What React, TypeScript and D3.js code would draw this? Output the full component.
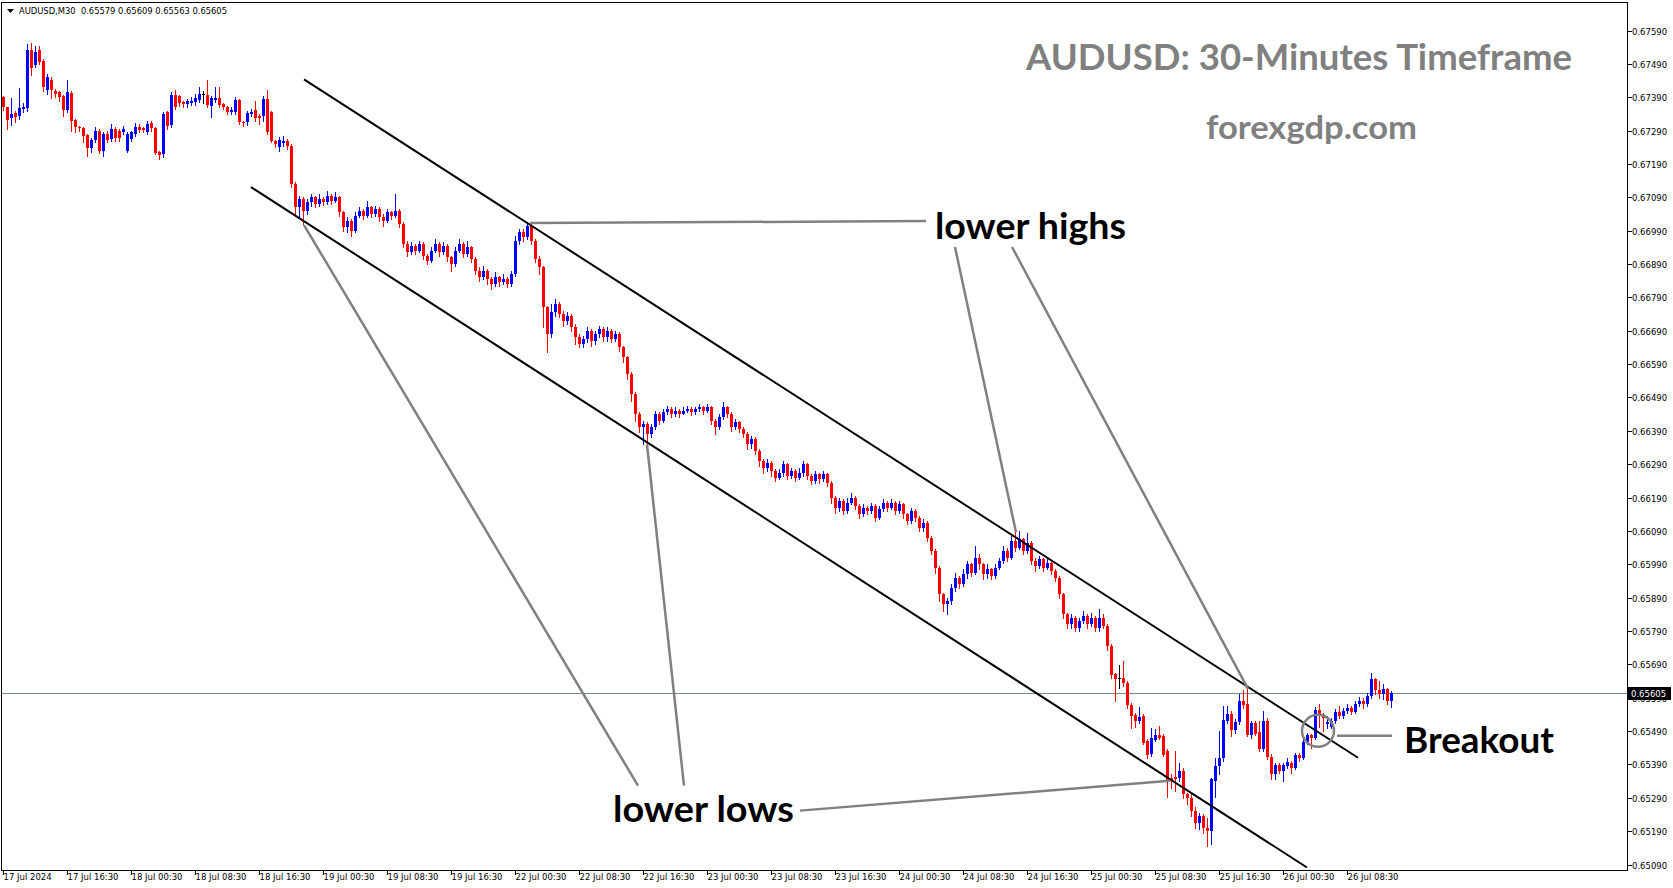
import React, { useEffect, useRef } from 'react';
import * as d3 from 'd3';

const W = 1673;
const H = 888;

const headerText = 'AUDUSD,M30  0.65579 0.65609 0.65563 0.65605';
const chartTitle = 'AUDUSD: 30-Minutes Timeframe';
const siteName = 'forexgdp.com';
const lastPrice = 0.65605;

const timeLabels = [
  '17 Jul 2024', '17 Jul 16:30', '18 Jul 00:30', '18 Jul 08:30', '18 Jul 16:30', '19 Jul 00:30',
  '19 Jul 08:30', '19 Jul 16:30', '22 Jul 00:30', '22 Jul 08:30', '22 Jul 16:30', '23 Jul 00:30',
  '23 Jul 08:30', '23 Jul 16:30', '24 Jul 00:30', '24 Jul 08:30', '24 Jul 16:30', '25 Jul 00:30',
  '25 Jul 08:30', '25 Jul 16:30', '26 Jul 00:30', '26 Jul 08:30',
];

const priceTicks = [
  0.6759, 0.6749, 0.6739, 0.6729, 0.6719, 0.6709, 0.6699, 0.6689, 0.6679, 0.6669, 0.6659, 0.6649, 0.6639,
  0.6629, 0.6619, 0.6609, 0.6599, 0.6589, 0.6579, 0.6569, 0.6559, 0.6549, 0.6539, 0.6529, 0.6519, 0.6509,
];

// M30 candles, prices x 1e5
const opens = [
  67390, 67360, 67327, 67342, 67333, 67354, 67357, 67533, 67488, 67533, 67500, 67411, 67443, 67408, 67405, 67393,
  67351, 67402, 67321, 67300, 67297, 67276, 67237, 67261, 67288, 67228, 67279, 67264, 67294, 67288, 67285, 67228,
  67264, 67279, 67300, 67297, 67285, 67312, 67297, 67225, 67219, 67345, 67306, 67396, 67393, 67375, 67369, 67372,
  67375, 67381, 67399, 67396, 67363, 67381, 67387, 67369, 67360, 67345, 67345, 67381, 67315, 67315, 67339, 67351,
  67333, 67333, 67384, 67345, 67258, 67240, 67252, 67258, 67243, 67130,
  67060, 67085, 67050, 67075, 67090, 67070, 67085, 67075, 67095, 67080, 67090, 67045, 67000, 67020, 66990, 67035,
  67050, 67035, 67060, 67040, 67055, 67030, 67020, 67045, 67035, 67050, 67010, 66950, 66925, 66945, 66930, 66950,
  66915, 66900, 66930, 66950, 66925, 66945, 66910, 66890, 66930, 66950, 66920, 66940, 66905, 66870, 66850, 66870,
  66845, 66830, 66850, 66835, 66845, 66830, 66860, 66960, 66985, 66970, 67005, 66960, 66905, 66880, 66760, 66680,
  66745, 66770, 66740, 66720, 66735, 66700, 66670, 66650, 66665, 66690, 66660, 66680, 66695, 66670, 66690, 66665,
  66680, 66640, 66610, 66560, 66500, 66440, 66400, 66410, 66380, 66400, 66440, 66420, 66445, 66455, 66440, 66450,
  66440, 66450, 66455, 66445, 66455, 66460, 66450, 66460, 66420, 66400, 66430, 66460, 66440, 66400, 66415, 66395,
  66380, 66350, 66365, 66330, 66300, 66280, 66295, 66270, 66250, 66265, 66290, 66255, 66270, 66250, 66265, 66290,
  66255, 66240, 66260, 66245, 66260, 66235, 66190, 66160, 66180, 66150, 66175, 66190, 66165, 66140, 66160, 66150,
  66165, 66130, 66155, 66175, 66160, 66175, 66150, 66170, 66140, 66120, 66150, 66130, 66100, 66115, 66070, 66030,
  65980, 65900, 65870, 65880, 65920, 65950, 65930, 65960, 65990, 65965, 66010, 65990, 65960, 65975, 65955, 65980,
  66000, 66030, 66010, 66060, 66040, 66065, 66030, 66055, 66000, 65985, 66005, 65980, 65995, 65970, 65950, 65900,
  65840, 65810, 65830, 65800, 65820, 65835, 65810, 65830, 65800,
  65830, 65805, 65745, 65661, 65650, 65650, 65634, 65569, 65539, 65521, 65536, 65461, 65422, 65464, 65479, 65476,
  65431, 65350, 65353, 65350, 65371, 65300, 65290, 65250, 65215, 65235, 65200, 65190, 65341, 65386, 65410, 65521,
  65542, 65494, 65518, 65581, 65572, 65479, 65515, 65488, 65437, 65521, 65413, 65362, 65389, 65371, 65386, 65395,
  65380, 65419, 65410, 65458, 65479, 65470, 65554, 65536, 65512, 65503, 65521, 65548, 65536, 65551, 65560, 65548,
  65572, 65580, 65570, 65596, 65645, 65612, 65600, 65615, 65579,
];

const highs = [
  67395, 67362, 67387, 67350, 67417, 67372, 67551, 67554, 67545, 67545, 67505, 67460, 67450, 67415, 67410, 67398,
  67443, 67408, 67325, 67305, 67300, 67280, 67268, 67300, 67295, 67285, 67290, 67309, 67300, 67295, 67305, 67285,
  67290, 67312, 67310, 67300, 67320, 67318, 67300, 67228, 67345, 67350, 67405, 67411, 67398, 67380, 67385, 67390,
  67400, 67420, 67408, 67441, 67395, 67422, 67420, 67372, 67365, 67360, 67390, 67385, 67318, 67348, 67355, 67380,
  67340, 67395, 67411, 67350, 67262, 67270, 67275, 67265, 67250, 67135,
  67095, 67090, 67085, 67100, 67095, 67100, 67090, 67110, 67100, 67105, 67095, 67050, 67030, 67025, 67045, 67060,
  67055, 67080, 67065, 67065, 67060, 67040, 67055, 67050, 67100, 67055, 67015, 66960, 66955, 66950, 66960, 66955,
  66920, 66940, 66965, 66955, 66955, 66950, 66915, 66940, 66965, 66955, 66960, 66945, 66910, 66880, 66885, 66875,
  66850, 66865, 66855, 66860, 66850, 66870, 66975, 66995, 66995, 67015, 67010, 66965, 66915, 66885, 66765, 66770,
  66785, 66775, 66750, 66745, 66740, 66710, 66680, 66675, 66700, 66695, 66690, 66705, 66700, 66700, 66695, 66690,
  66685, 66645, 66615, 66565, 66505, 66445, 66420, 66415, 66410, 66450, 66445, 66455, 66465, 66460, 66460, 66455,
  66460, 66465, 66460, 66462, 66470, 66465, 66470, 66465, 66425, 66440, 66475, 66465, 66445, 66425, 66420, 66400,
  66385, 66375, 66370, 66335, 66305, 66305, 66300, 66275, 66275, 66300, 66295, 66280, 66275, 66280, 66300, 66295,
  66260, 66270, 66265, 66270, 66265, 66240, 66195, 66190, 66185, 66190, 66205, 66195, 66170, 66170, 66165, 66175,
  66170, 66165, 66185, 66180, 66185, 66180, 66180, 66175, 66145, 66160, 66155, 66135, 66125, 66120, 66075, 66035,
  65985, 65905, 65890, 65930, 65965, 65955, 65975, 66000, 65995, 66045, 66020, 65995, 65990, 65980, 65990, 66010,
  66045, 66040, 66075, 66095, 66090, 66070, 66085, 66060, 66010, 66015, 66010, 66005, 66000, 65975, 65955, 65905,
  65845, 65840, 65835, 65830, 65850, 65840, 65845, 65835, 65855,
  65840, 65810, 65750, 65665, 65688, 65700, 65640, 65575, 65545, 65563, 65540, 65465, 65500, 65495, 65506, 65480,
  65435, 65360, 65431, 65395, 65380, 65305, 65300, 65262, 65245, 65240, 65230, 65350, 65410, 65490, 65566, 65566,
  65550, 65525, 65602, 65614, 65620, 65520, 65520, 65521, 65551, 65530, 65420, 65395, 65395, 65395, 65410, 65400,
  65425, 65425, 65465, 65485, 65482, 65563, 65572, 65545, 65535, 65530, 65555, 65566, 65560, 65570, 65566, 65580,
  65592, 65590, 65605, 65665, 65650, 65640, 65630, 65620, 65609,
];

const lows = [
  67352, 67294, 67306, 67315, 67325, 67345, 67350, 67458, 67480, 67490, 67410, 67400, 67387, 67392, 67380, 67333,
  67345, 67288, 67285, 67290, 67255, 67213, 67225, 67255, 67222, 67213, 67255, 67258, 67260, 67258, 67280, 67225,
  67258, 67275, 67285, 67285, 67280, 67290, 67219, 67204, 67210, 67295, 67300, 67355, 67365, 67362, 67362, 67368,
  67368, 67375, 67372, 67360, 67330, 67375, 67360, 67355, 67340, 67340, 67340, 67310, 67305, 67306, 67335, 67320,
  67310, 67320, 67280, 67255, 67240, 67230, 67245, 67235, 67120, 67040,
  67030, 67010, 67040, 67065, 67060, 67065, 67068, 67070, 67070, 67075, 67035, 66990, 66985, 66975, 66985, 67030,
  67025, 67030, 67030, 67035, 67020, 67005, 67015, 67025, 67030, 67000, 66940, 66915, 66920, 66920, 66925, 66905,
  66890, 66895, 66925, 66915, 66920, 66900, 66870, 66885, 66925, 66910, 66915, 66895, 66860, 66840, 66845, 66830,
  66815, 66825, 66825, 66830, 66820, 66825, 66855, 66950, 66960, 66965, 66950, 66895, 66860, 66700, 66625, 66670,
  66735, 66730, 66705, 66710, 66690, 66650, 66640, 66640, 66655, 66645, 66650, 66670, 66660, 66660, 66655, 66660,
  66630, 66595, 66545, 66480, 66420, 66385, 66350, 66340, 66370, 66395, 66410, 66415, 66440, 66430, 66435, 66430,
  66440, 66445, 66438, 66440, 66450, 66440, 66445, 66410, 66380, 66395, 66425, 66430, 66390, 66395, 66385, 66370,
  66335, 66340, 66320, 66285, 66265, 66270, 66255, 66240, 66245, 66255, 66245, 66250, 66240, 66245, 66255, 66245,
  66230, 66235, 66235, 66240, 66225, 66175, 66145, 66150, 66140, 66145, 66170, 66155, 66130, 66135, 66140, 66145,
  66120, 66125, 66150, 66150, 66155, 66140, 66145, 66130, 66110, 66115, 66120, 66090, 66090, 66060, 66020, 65965,
  65880, 65850, 65840, 65870, 65910, 65920, 65925, 65950, 65955, 65960, 65975, 65945, 65950, 65945, 65950, 65975,
  65995, 66000, 66005, 66030, 66035, 66020, 66025, 65990, 65970, 65980, 65970, 65975, 65960, 65940, 65890, 65830,
  65800, 65800, 65790, 65790, 65815, 65800, 65805, 65790, 65790,
  65800, 65733, 65650, 65581, 65620, 65625, 65560, 65500, 65503, 65515, 65450, 65410, 65415, 65460, 65465, 65415,
  65291, 65320, 65311, 65340, 65290, 65270, 65235, 65200, 65195, 65185, 65145, 65150, 65291, 65360, 65400, 65515,
  65476, 65485, 65510, 65560, 65475, 65470, 65478, 65430, 65430, 65405, 65345, 65345, 65365, 65340, 65380, 65365,
  65375, 65400, 65405, 65450, 65440, 65465, 65503, 65490, 65500, 65500, 65515, 65530, 65530, 65545, 65540, 65545,
  65565, 65560, 65565, 65590, 65600, 65590, 65585, 65570, 65563,
];

const closes = [
  67360, 67321, 67339, 67330, 67357, 67360, 67533, 67479, 67527, 67497, 67420, 67452, 67411, 67399, 67390, 67351,
  67405, 67318, 67300, 67297, 67273, 67237, 67261, 67288, 67228, 67279, 67261, 67294, 67267, 67267, 67294, 67279,
  67285, 67300, 67291, 67291, 67309, 67297, 67222, 67216, 67339, 67303, 67396, 67360, 67372, 67369, 67378, 67378,
  67387, 67399, 67399, 67366, 67387, 67387, 67366, 67360, 67345, 67351, 67381, 67315, 67312, 67342, 67345, 67327,
  67327, 67384, 67285, 67258, 67249, 67261, 67258, 67243, 67130, 67060,
  67085, 67050, 67075, 67090, 67070, 67085, 67075, 67095, 67080, 67090, 67045, 67000, 67020, 66990, 67035, 67050,
  67035, 67060, 67040, 67055, 67030, 67020, 67045, 67035, 67050, 67010, 66950, 66925, 66945, 66930, 66950, 66915,
  66900, 66930, 66950, 66925, 66945, 66910, 66890, 66930, 66950, 66920, 66940, 66905, 66870, 66850, 66870, 66845,
  66830, 66850, 66835, 66845, 66830, 66860, 66960, 66985, 66970, 67005, 66960, 66905, 66880, 66760, 66680, 66745,
  66770, 66740, 66720, 66735, 66700, 66670, 66650, 66665, 66690, 66660, 66680, 66695, 66670, 66690, 66665, 66680,
  66640, 66610, 66560, 66500, 66440, 66400, 66410, 66380, 66400, 66440, 66420, 66445, 66455, 66440, 66450, 66440,
  66450, 66455, 66445, 66455, 66460, 66450, 66460, 66420, 66400, 66430, 66460, 66440, 66400, 66415, 66395, 66380,
  66350, 66365, 66330, 66300, 66280, 66295, 66270, 66250, 66265, 66290, 66255, 66270, 66250, 66265, 66290, 66255,
  66240, 66260, 66245, 66260, 66235, 66190, 66160, 66180, 66150, 66175, 66190, 66165, 66140, 66160, 66150, 66165,
  66130, 66155, 66175, 66160, 66175, 66150, 66170, 66140, 66120, 66150, 66130, 66100, 66115, 66070, 66030, 65980,
  65900, 65870, 65880, 65920, 65950, 65930, 65960, 65990, 65965, 66010, 65990, 65960, 65975, 65955, 65980, 66000,
  66030, 66010, 66060, 66040, 66065, 66030, 66055, 66000, 65985, 66005, 65980, 65995, 65970, 65950, 65900, 65840,
  65810, 65830, 65800, 65820, 65835, 65810, 65830, 65800, 65830,
  65806, 65745, 65658, 65646, 65650, 65634, 65569, 65536, 65521, 65533, 65455, 65419, 65470, 65479, 65470, 65419,
  65341, 65341, 65347, 65371, 65300, 65290, 65250, 65215, 65235, 65200, 65190, 65345, 65386, 65410, 65524, 65542,
  65494, 65518, 65581, 65569, 65479, 65515, 65482, 65437, 65521, 65413, 65360, 65389, 65371, 65389, 65398, 65380,
  65419, 65410, 65458, 65479, 65470, 65554, 65536, 65530, 65518, 65521, 65548, 65536, 65551, 65560, 65548, 65572,
  65580, 65570, 65596, 65645, 65612, 65600, 65615, 65579, 65605,
];

// trend channel and annotation anchors as [bar index, price]
const upperChannel: [number, number][] = [[75.25, 0.674435], [338.75, 0.6541]];
const lowerChannel: [number, number][] = [[62, 0.671205], [326, 0.65081]];
const highPointers: [number, number][][] = [
  [[131.75, 0.670128], [230.75, 0.670188]],
  [[238, 0.669411], [253.25, 0.660858]],
  [[252.25, 0.669411], [311.25, 0.656163]],
];
const lowPointers: [number, number][][] = [
  [[158.75, 0.653262], [75.25, 0.670069]],
  [[170.25, 0.653262], [161, 0.66349]],
  [[199.25, 0.652515], [291.75, 0.653412]],
];
const breakoutPointer: [number, number][] = [[333.5, 0.654758], [347.25, 0.654758]];
const breakoutPoint: [number, number] = [328.75, 0.654907];

const App: React.FC = () => {
  const ref = useRef<SVGSVGElement | null>(null);

  useEffect(() => {
    document.body.style.margin = '0';
    if (!ref.current) return;
    const svg = d3.select(ref.current);
    svg.selectAll('*').remove();

    const plot = { left: 1.5, top: 2.5, right: 1627.5, bottom: 870.5 };
    const x = d3.scaleLinear().domain([0, 347]).range([3, 3 + 4 * 347]);
    const y = d3.scaleLinear().domain([0.6509, 0.6759]).range([864.5, 30.5]);
    const axisFont = 'DejaVu Sans, Tahoma, sans-serif';

    svg.append('rect').attr('width', W).attr('height', H).attr('fill', '#fff');

    svg.append('defs').append('clipPath').attr('id', 'plotclip')
      .append('rect')
      .attr('x', plot.left).attr('y', plot.top)
      .attr('width', plot.right - plot.left).attr('height', plot.bottom - plot.top);

    // bid line
    svg.append('line')
      .attr('x1', plot.left).attr('x2', plot.right)
      .attr('y1', Math.round(y(lastPrice)) + 0.5).attr('y2', Math.round(y(lastPrice)) + 0.5)
      .attr('stroke', '#778899').attr('stroke-width', 1);

    // candles
    const bars = closes.map((c, i) => ({ i, o: opens[i] / 1e5, h: highs[i] / 1e5, l: lows[i] / 1e5, c: c / 1e5 }));
    const g = svg.append('g').attr('shape-rendering', 'crispEdges').attr('clip-path', 'url(#plotclip)');
    const colorOf = (d: { o: number; c: number }) => (d.c > d.o ? '#0000ff' : d.c < d.o ? '#ff0000' : '#000000');
    g.selectAll('rect.wick').data(bars).enter().append('rect')
      .attr('class', 'wick')
      .attr('x', (d) => Math.round(x(d.i)))
      .attr('width', 1)
      .attr('y', (d) => Math.round(y(d.h)))
      .attr('height', (d) => Math.max(1, Math.round(y(d.l)) - Math.round(y(d.h)) + 1))
      .attr('fill', colorOf);
    g.selectAll('rect.body').data(bars).enter().append('rect')
      .attr('class', 'body')
      .attr('x', (d) => Math.round(x(d.i)) - 1)
      .attr('width', 3)
      .attr('y', (d) => Math.round(y(Math.max(d.o, d.c))))
      .attr('height', (d) => Math.max(1, Math.round(y(Math.min(d.o, d.c))) - Math.round(y(Math.max(d.o, d.c)))))
      .attr('fill', colorOf);

    const line = d3.line<[number, number]>().x((d) => x(d[0])).y((d) => y(d[1]));
    const overlay = svg.append('g').attr('clip-path', 'url(#plotclip)');

    // channel
    [upperChannel, lowerChannel].forEach((pts) => {
      overlay.append('path').attr('d', line(pts)).attr('fill', 'none')
        .attr('stroke', '#000').attr('stroke-width', 2);
    });

    // grey pointers
    [...highPointers, ...lowPointers, breakoutPointer].forEach((pts) => {
      overlay.append('path').attr('d', line(pts)).attr('fill', 'none')
        .attr('stroke', '#808080').attr('stroke-width', 2.5);
    });
    overlay.append('circle')
      .attr('cx', x(breakoutPoint[0])).attr('cy', y(breakoutPoint[1])).attr('r', 16)
      .attr('fill', 'none').attr('stroke', '#808080').attr('stroke-width', 2.5);

    // annotation texts
    const label = (t: string, px: number, py: number, size: number, len: number, fill: string) =>
      svg.append('text').attr('x', px).attr('y', py).text(t)
        .attr('font-family', 'Lato, "Open Sans", sans-serif').attr('font-weight', 700)
        .attr('font-size', size).attr('fill', fill)
        .attr('textLength', len).attr('lengthAdjust', 'spacingAndGlyphs');
    label(chartTitle, 1026, 70, 37, 546, '#808080');
    label(siteName, 1206, 139, 32, 211, '#808080');
    label('lower highs', 935, 239, 37, 191, '#000');
    label('lower lows', 613, 822, 37, 181, '#000');
    label('Breakout', 1404, 753, 37, 150, '#000');

    // header
    svg.append('path').attr('d', 'M7,9 L14,9 L10.5,13 Z').attr('fill', '#000');
    svg.append('text').attr('x', 19).attr('y', 14).text(headerText)
      .attr('font-family', axisFont).attr('font-size', 8.5).attr('fill', '#000')
      .attr('textLength', 208).attr('lengthAdjust', 'spacingAndGlyphs')
      .style('white-space', 'pre');

    // frame
    svg.append('rect')
      .attr('x', plot.left).attr('y', plot.top)
      .attr('width', plot.right - plot.left).attr('height', plot.bottom - plot.top)
      .attr('fill', 'none').attr('stroke', '#000').attr('stroke-width', 1)
      .attr('shape-rendering', 'crispEdges');

    // price axis
    const ticks = svg.append('g').attr('shape-rendering', 'crispEdges');
    priceTicks.forEach((p) => {
      const yy = Math.round(y(p)) + 0.5;
      ticks.append('line').attr('x1', plot.right).attr('x2', plot.right + 4).attr('y1', yy).attr('y2', yy)
        .attr('stroke', '#000');
      svg.append('text').attr('x', 1632).attr('y', yy + 3.5).text(d3.format('.5f')(p))
        .attr('font-family', axisFont).attr('font-size', 8.5).attr('fill', '#000');
    });

    // time axis
    timeLabels.forEach((t, k) => {
      const xx = Math.round(x(k * 16)) + 0.5;
      ticks.append('line').attr('x1', xx).attr('x2', xx).attr('y1', plot.bottom).attr('y2', plot.bottom + 4)
        .attr('stroke', '#000');
      svg.append('text').attr('x', xx).attr('y', 880).text(t)
        .attr('font-family', axisFont).attr('font-size', 8.5).attr('fill', '#000');
    });

    // last price tag
    const ly = Math.round(y(lastPrice)) + 0.5;
    svg.append('rect').attr('x', 1628).attr('y', ly - 6.5).attr('width', 43).attr('height', 13)
      .attr('fill', '#000');
    svg.append('text').attr('x', 1631).attr('y', ly + 3.5).text(d3.format('.5f')(lastPrice))
      .attr('font-family', axisFont).attr('font-size', 8.5).attr('fill', '#fff');
  }, []);

  return (
    <div style={{ position: 'absolute', left: 0, top: 0 }}>
      <svg ref={ref} width={W} height={H} style={{ display: 'block' }} />
    </div>
  );
};

export default App;
